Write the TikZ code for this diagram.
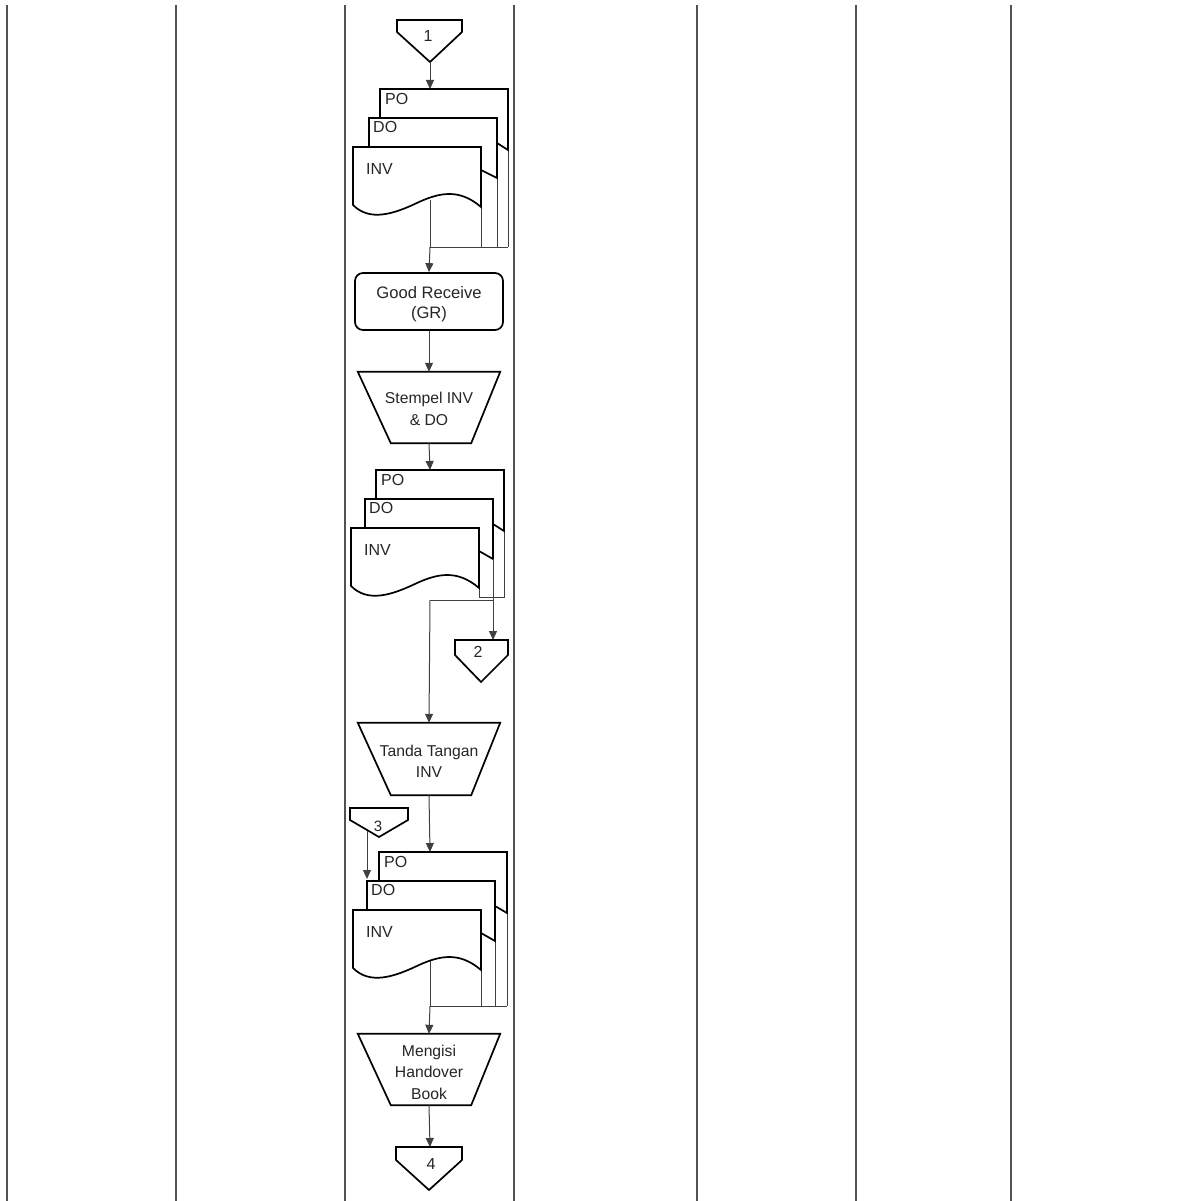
\documentclass[tikz,border=0pt]{standalone}
\usepackage{fontspec}
\setmainfont{Liberation Sans}
\usetikzlibrary{arrows.meta}
\tikzset{
  lane/.style={draw=black!68, line width=2.4pt},
  shp/.style={draw=black, line width=1.7pt, line join=miter},
  lnk/.style={draw=black!75, line width=1pt},
  arr/.style={lnk, -{Triangle[length=9pt,width=8pt]}},
  lbl/.style={font=\fontsize{15.7}{21.5}\selectfont, text=black!85, inner sep=0pt, align=center},
  doclbl/.style={font=\fontsize{16}{19}\selectfont, text=black!85, inner sep=0pt},
  trap/.style={minimum width=142pt, minimum height=71pt, inner sep=0pt},
}
% #1 id, #2 top, #3 left PO, #4 left DO, #5 left INV
\newcommand\docstack[5]{%
  \fill[white] (#3,#2) rectangle (#3+128,#2+60);
  \draw[shp] (#3,#2+29) -- (#3,#2) -- (#3+128,#2) -- (#3+128,#2+61) -- (#4+128,#2+54);
  \fill[white] (#4,#2+29) rectangle (#4+128,#2+88);
  \draw[shp] (#4,#2+58) -- (#4,#2+29) -- (#4+128,#2+29) -- (#4+128,#2+89) -- (#5+128,#2+81);
  \draw[shp, fill=white] (#5+128,#2+118) .. controls (#5+106,#2+99) and (#5+86,#2+104) .. (#5+66,#2+113)
     .. controls (#5+41,#2+125) and (#5+17,#2+133) .. (#5,#2+116) -- (#5,#2+58) -- (#5+128,#2+58) -- cycle;
  \node[doclbl, anchor=west] (#1po) at (#3+5,#2+10) {PO};
  \node[doclbl, anchor=west] (#1do) at (#4+4,#2+38) {DO};
  \node[doclbl, anchor=west] (#1inv) at (#5+13,#2+80) {INV};
  \coordinate (#1top) at (430,#2);
}
% #1 id, #2 xl, #3 xr, #4 top, #5 side bottom, #6 tip x, #7 tip y
\newcommand\offpage[7]{%
  \draw[shp, fill=white] (#2,#4) -- (#3,#4) -- (#3,#5) -- (#6,#7) -- (#2,#5) -- cycle;
  \coordinate (#1tip) at (#6,#7);
}
\newcommand\manop[1]{%
  \draw[shp] (#1.north west) -- (#1.north east) -- ([xshift=-29pt]#1.south east) -- ([xshift=33pt]#1.south west) -- cycle;
}
\begin{document}
\begin{tikzpicture}[x=1pt,y=-1pt]
\useasboundingbox (0,0) rectangle (1186,1201);
\fill[white] (0,0) rectangle (1186,1201);

% swimlane separators
\foreach \x in {7,176,345,514,697,856,1011}
  \draw[lane] (\x,5) -- (\x,1201);

% ---------- connector 1 ----------
\offpage{c1}{397}{462}{20}{32}{430}{62}
\node[doclbl] (c1lbl) at (428,36) {1};

% ---------- document stack 1 ----------
\draw[lnk] (430,200) -- (430,247) -- (508,247);
\draw[lnk] (481,200) -- (481,247);
\draw[lnk] (497,170) -- (497,247);
\draw[lnk] (508,140) -- (508,247);
\coordinate (j1) at (430,247);
\docstack{a}{89}{380}{369}{353}
\draw[arr] (c1tip) -- (atop);

% ---------- Good Receive ----------
\node[draw=black, line width=1.7pt, rounded corners=8pt, minimum width=148pt, minimum height=57pt, inner sep=0pt]
  (gr) at (429,301.5) {};
\node[lbl, font=\fontsize{16.6}{20.5}\selectfont] (grt) at ([yshift=-2.5pt]gr.center) {Good Receive\\(GR)};
\draw[arr] (j1) -- (gr.north);

% ---------- Stempel ----------
\node[trap] (st) at (429,407.5) {};
\manop{st}
\node[lbl] (stt) at ([yshift=-1.5pt]st.center) {Stempel INV\\\& DO};
\draw[arr] (gr.south) -- (st.north);

% ---------- document stack 2 ----------
\draw[lnk] (479,580) -- (479,597) -- (504,597) -- (504,520);
\draw[lnk] (430,600) -- (493,600);
\coordinate (j2) at (430,600);
\coordinate (c2in) at (493,640);
\draw[lnk] (493,550) -- (493,600);
\docstack{b}{470}{376}{365}{351}
\draw[arr] (st.south) -- (btop);
\draw[arr] (493,559) -- (c2in);

% ---------- connector 2 ----------
\offpage{c2}{455}{508}{640}{655}{481}{682}
\node[doclbl] (c2lbl) at (478,652) {2};

% ---------- Tanda Tangan ----------
\node[trap, minimum height=72pt] (tt) at (429,759) {};
\manop{tt}
\node[lbl] (ttt) at ([yshift=-2.5pt]tt.center) {Tanda Tangan\\INV};
\draw[arr] (j2) -- (tt.north);

% ---------- connector 3 ----------
\offpage{c3}{350}{408}{808}{820}{379}{837}
\node[doclbl, font=\fontsize{15}{18}\selectfont] (c3lbl) at (378,826) {3};
\coordinate (c3out) at (367,831);

% ---------- document stack 3 ----------
\draw[lnk] (430,960) -- (430,1006) -- (507,1006);
\draw[lnk] (481,960) -- (481,1006);
\draw[lnk] (495,930) -- (495,1006);
\draw[lnk] (507,900) -- (507,1006);
\coordinate (j3) at (430,1006);
\docstack{c}{852}{379}{367}{353}
\draw[arr] (tt.south) -- (ctop);
\draw[arr] (c3out) -- (367,879);

% ---------- Mengisi Handover Book ----------
\node[trap] (mg) at (429,1069.5) {};
\manop{mg}
\node[lbl] (mgt) at ([yshift=-2.5pt]mg.center) {Mengisi\\Handover\\Book};
\draw[arr] (j3) -- (mg.north);

% ---------- connector 4 ----------
\offpage{c4}{396}{462}{1147}{1160}{429}{1190}
\node[doclbl] (c4lbl) at (431,1164) {4};
\coordinate (c4in) at (430,1147);
\draw[arr] (mg.south) -- (c4in);

\end{tikzpicture}
\end{document}
